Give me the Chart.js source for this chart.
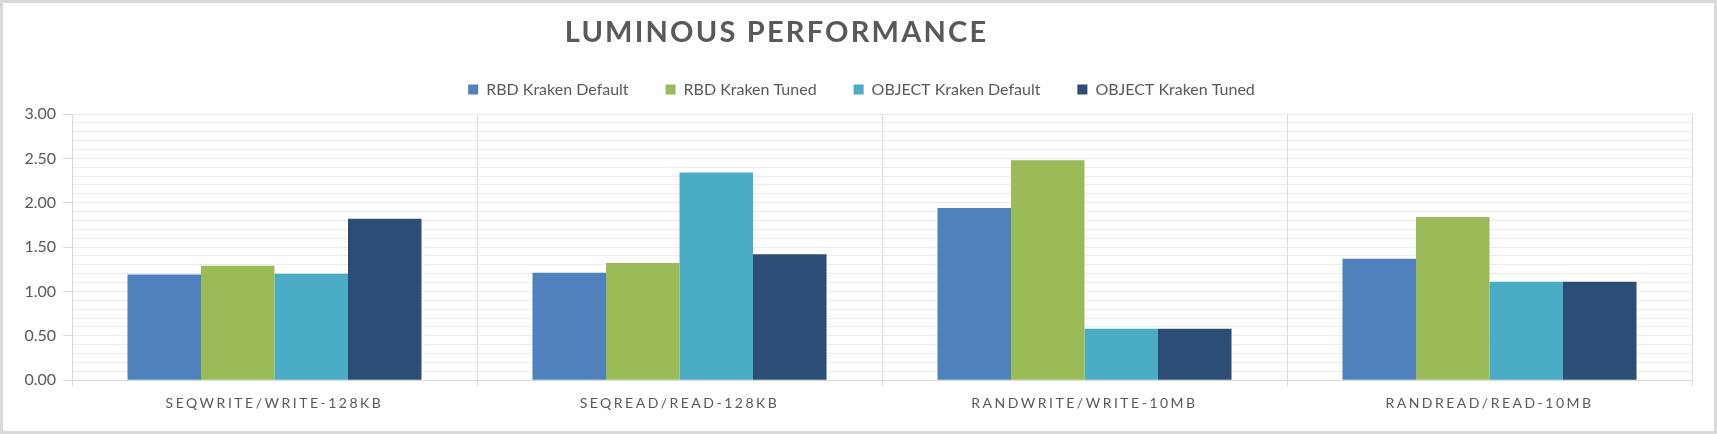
<!DOCTYPE html>
<html><head><meta charset="utf-8">
<script src="https://cdn.jsdelivr.net/npm/chart.js@4/dist/chart.umd.min.js"></script>
<style>
html,body{margin:0;padding:0;background:#fff;}
#wrap{width:1717px;height:434px;box-sizing:border-box;border:3px solid #d9d9d9;background:#fff;}
canvas{display:block;}
</style></head><body>
<div id="wrap"><canvas id="c" width="1711" height="428" style="width:1711px;height:428px"></canvas></div>
<script>
const titleText = 'LUMINOUS PERFORMANCE';
const categories = ['SEQWRITE/WRITE-128KB', 'SEQREAD/READ-128KB', 'RANDWRITE/WRITE-10MB', 'RANDREAD/READ-10MB'];
const seriesNames = ['RBD Kraken Default', 'RBD Kraken Tuned', 'OBJECT Kraken Default', 'OBJECT Kraken Tuned'];
const rbdDefault = [1.19, 1.21, 1.94, 1.37];
const rbdTuned = [1.29, 1.32, 2.48, 1.84];
const objectDefault = [1.20, 2.34, 0.58, 1.11];
const objectTuned = [1.82, 1.42, 0.58, 1.11];
const seriesColors = ['#4f81bd', '#9bbb59', '#4bacc6', '#2c4d75'];
const yMin = 0, yMax = 3, yStep = 0.1, yLabelStep = 0.5;

const isMajor = v => Math.abs(v / yLabelStep - Math.round(v / yLabelStep)) < 1e-6;

const spacingPlugin = {
  id: 'spacing',
  beforeDraw(chart) {
    if (chart.$wrapped) return;
    chart.$wrapped = true;
    const xs = chart.scales.x;
    const origLabels = xs.drawLabels;
    xs.drawLabels = function (area) {
      const ctx = this.ctx; ctx.save(); ctx.letterSpacing = '2.5px';
      origLabels.call(this, area); ctx.restore();
    };
    const tb = chart.titleBlock;
    const origTitle = tb.draw;
    tb.draw = function () {
      const ctx = this.ctx; ctx.save(); ctx.translate(-71, 0); ctx.letterSpacing = '2.2px';
      origTitle.call(this); ctx.restore();
    };
    const lg = chart.legend;
    const origLegend = lg.draw;
    lg.draw = function () {
      const ctx = this.ctx; ctx.save(); ctx.translate(14, 0);
      origLegend.call(this); ctx.restore();
    };
  }
};

const seriesData = [rbdDefault, rbdTuned, objectDefault, objectTuned];
new Chart(document.getElementById('c'), {
  type: 'bar',
  data: {
    labels: categories,
    datasets: seriesNames.map((n, i) => ({
      label: n, data: seriesData[i], backgroundColor: seriesColors[i], borderWidth: 0,
      categoryPercentage: 0.726, barPercentage: 1, xAxisID: 'x', yAxisID: 'y'
    }))
  },
  options: {
    responsive: false, animation: false,
    layout: { padding: { left: 0, right: 22, top: 0, bottom: 10 } },
    plugins: {
      title: { display: true, text: titleText, color: '#595959',
        font: { family: 'Lato', size: 29, weight: 'bold', lineHeight: 0.8 },
        padding: { top: 18, bottom: 0.3 } },
      legend: { position: 'top',
        labels: { color: '#595959', font: { family: 'Lato', size: 16 }, boxWidth: 10, boxHeight: 10, padding: 37 } },
      tooltip: { enabled: false }
    },
    scales: {
      x: {
        grid: { offset: true, color: '#d9d9d9', tickLength: 6, tickColor: '#d9d9d9' },
        border: { color: '#d9d9d9' },
        ticks: { color: '#595959', font: { family: 'Lato', size: 14 }, padding: 9, maxRotation: 0, autoSkip: false }
      },
      xTop: {
        type: 'category', position: 'top',
        grid: { display: true, drawOnChartArea: false, drawTicks: true, tickLength: 6.5, color: 'rgba(0,0,0,0)' },
        ticks: { display: false }, border: { display: false }
      },
      y: {
        min: yMin, max: yMax,
        afterFit(s) { s.width = 69; },
        ticks: { stepSize: yStep, autoSkip: false, padding: 7, color: '#595959',
          font: { family: 'Lato', size: 16 },
          callback(v) { return isMajor(v) ? v.toFixed(2) : ''; } },
        grid: {
          color(ctx) { return ctx.tick && Math.abs(ctx.tick.value) < 1e-6 ? '#d9d9d9' : '#ebebeb'; },
          tickLength: 9,
          tickColor(ctx) { return ctx.tick && isMajor(ctx.tick.value) ? '#d9d9d9' : 'rgba(0,0,0,0)'; }
        },
        border: { color: '#d9d9d9' }
      }
    }
  },
  plugins: [spacingPlugin]
});
</script>
</body></html>
